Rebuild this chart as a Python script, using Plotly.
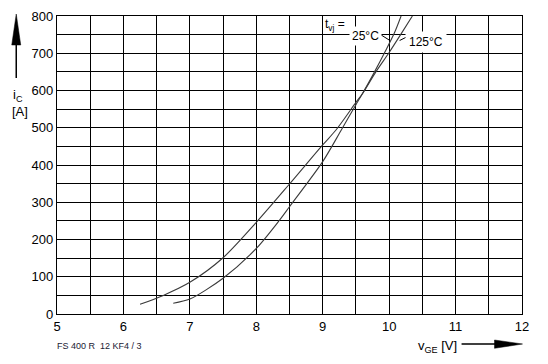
import plotly.graph_objects as go

# Data
v_25 = [6.75, 7.0, 7.5, 8.0, 8.35, 8.5, 9.0, 9.28, 9.5, 9.6, 9.78, 9.95, 10.08, 10.18]
i_25 = [29, 40, 96, 176, 252, 288, 409, 494, 562, 592, 650, 708, 755, 800]

v_125 = [6.25, 6.6, 7.0, 7.5, 8.0, 8.5, 9.0, 9.2, 9.5, 9.6, 9.8, 10.0, 10.18, 10.35]
i_125 = [26, 50, 85, 151, 246, 349, 454, 494, 568, 592, 650, 702, 752, 800]

x_ticks = [5, 6, 7, 8, 9, 10, 11, 12]
y_ticks = [0, 100, 200, 300, 400, 500, 600, 700, 800]

W, H = 548, 364
L, R, T, B = 57, 25.5, 16, 50
PW, PH = W - L - R, H - T - B


def px(x):
    return (x - L) / PW


def py(y):
    return (H - B - y) / PH


FONT = "Liberation Sans, Arial, sans-serif"
LINE = "#3a3a3a"

fig = go.Figure()
fig.add_trace(go.Scatter(x=v_125, y=i_125, mode="lines", line=dict(color=LINE, width=1.1, shape="spline", smoothing=0.8), showlegend=False, hoverinfo="skip"))
fig.add_trace(go.Scatter(x=v_25, y=i_25, mode="lines", line=dict(color=LINE, width=1.1, shape="spline", smoothing=0.8), showlegend=False, hoverinfo="skip"))

axis_common = dict(
    showgrid=True, gridcolor="black", gridwidth=1.2,
    showline=True, linecolor="black", linewidth=1.2, mirror=True,
    zeroline=False, ticks="", automargin=False,
    tickfont=dict(family=FONT, size=13, color="black"),
)

fig.update_xaxes(range=[5, 12], tickvals=x_ticks, ticktext=[str(v) for v in x_ticks],
                 minor=dict(dtick=0.5, tick0=5, showgrid=True, gridcolor="black", gridwidth=1.2, ticks=""),
                 **axis_common)
fig.update_yaxes(range=[0, 800], tickvals=y_ticks, ticktext=[str(v) for v in y_ticks],
                 minor=dict(dtick=50, tick0=0, showgrid=True, gridcolor="black", gridwidth=1.2, ticks=""),
                 **axis_common)

ann = []
# temperature labels
ann.append(dict(x=px(323), y=py(25), xref="paper", yref="paper", text="t<sub>vj</sub> =",
                showarrow=False, xanchor="left", yanchor="middle", font=dict(family=FONT, size=12, color="black")))
ann.append(dict(x=px(366), y=py(36), xref="paper", yref="paper", text="25°C",
                showarrow=False, xanchor="center", yanchor="middle", bgcolor="white", borderpad=2,
                font=dict(family=FONT, size=12, color="black")))
ann.append(dict(x=px(426), y=py(42), xref="paper", yref="paper", text="125°C",
                showarrow=False, xanchor="center", yanchor="middle", bgcolor="white", borderpad=3,
                font=dict(family=FONT, size=12, color="black")))
# axis labels
ann.append(dict(x=px(11), y=py(95), xref="paper", yref="paper", text="i<sub>C</sub>",
                showarrow=False, xanchor="left", yanchor="middle", font=dict(family=FONT, size=13, color="black")))
ann.append(dict(x=px(10), y=py(111), xref="paper", yref="paper", text="[A]",
                showarrow=False, xanchor="left", yanchor="middle", font=dict(family=FONT, size=13, color="black")))
ann.append(dict(x=px(416), y=py(346), xref="paper", yref="paper", text="v<sub>GE</sub> [V]",
                showarrow=False, xanchor="left", yanchor="middle", font=dict(family=FONT, size=13, color="black")))
ann.append(dict(x=px(55), y=py(346), xref="paper", yref="paper", text="FS 400 R  12 KF4 / 3",
                showarrow=False, xanchor="left", yanchor="middle", font=dict(family=FONT, size=9, color="#1a1a33")))

shapes = []
# leader lines
shapes.append(dict(type="line", xref="paper", yref="paper", x0=px(380), y0=py(34), x1=px(389.5), y1=py(40),
                   line=dict(color="black", width=1)))
shapes.append(dict(type="line", xref="paper", yref="paper", x0=px(400), y0=py(40.5), x1=px(407), y1=py(37),
                   line=dict(color="black", width=1)))
# up arrow (y axis)
shapes.append(dict(type="line", xref="paper", yref="paper", x0=px(16.2), y0=py(78), x1=px(16.2), y1=py(42),
                   line=dict(color="black", width=1.5)))
shapes.append(dict(type="path", xref="paper", yref="paper",
                   path=f"M {px(11.7)} {py(45)} L {px(20.7)} {py(45)} L {px(16.2)} {py(14)} Z",
                   fillcolor="black", line=dict(color="black", width=0.5)))
# right arrow (x axis)
shapes.append(dict(type="line", xref="paper", yref="paper", x0=px(462), y0=py(344), x1=px(498), y1=py(344),
                   line=dict(color="black", width=1.5)))
shapes.append(dict(type="path", xref="paper", yref="paper",
                   path=f"M {px(495)} {py(340)} L {px(495)} {py(348.3)} L {px(523)} {py(344)} Z",
                   fillcolor="black", line=dict(color="black", width=0.5)))

fig.update_layout(
    width=W, height=H,
    margin=dict(l=L, r=R, t=T, b=B, pad=0, autoexpand=False),
    paper_bgcolor="white", plot_bgcolor="white",
    annotations=ann, shapes=shapes,
    font=dict(family=FONT),
    hovermode=False,
)

fig.write_html("out.html", config={"displayModeBar": False},
               post_script="document.body.style.margin='0';document.body.style.overflow='hidden';")
